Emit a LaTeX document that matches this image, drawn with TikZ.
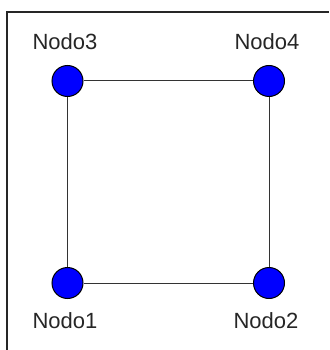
\documentclass[tikz,border=0pt]{standalone}
\usepackage{fontspec}
\setmainfont{Liberation Sans}
\begin{document}
\begin{tikzpicture}[x=1pt,y=-1pt,
	nodo/.style={circle,draw=black,line width=1pt,fill=blue,minimum size=31pt,inner sep=0pt},
	lato/.style={draw=black!80,line width=1pt},
	nome/.style={font=\fontsize{22}{26}\selectfont,inner sep=0pt,text=black!85}]
	\useasboundingbox (0,0) rectangle (329,350);
	% cornice
	\draw[black!85,line width=2pt] (7,350)--(7,12)--(329,12);
	\node[nodo,label={[nome,label distance=15.5pt,xshift=-2.5pt]above:Nodo3}] (n3) at (67.5,81) {};
	\node[nodo,label={[nome,label distance=15.5pt,xshift=-2pt]above:Nodo4}] (n4) at (269,81) {};
	\node[nodo,label={[nome,label distance=13.5pt,xshift=-2.5pt]below:Nodo1}] (n1) at (67.5,283) {};
	\node[nodo,label={[nome,label distance=13.5pt,xshift=-3pt]below:Nodo2}] (n2) at (269,283) {};
	\draw[lato] (n3)--(n4)--(n2)--(n1)--(n3);
\end{tikzpicture}
\end{document}
